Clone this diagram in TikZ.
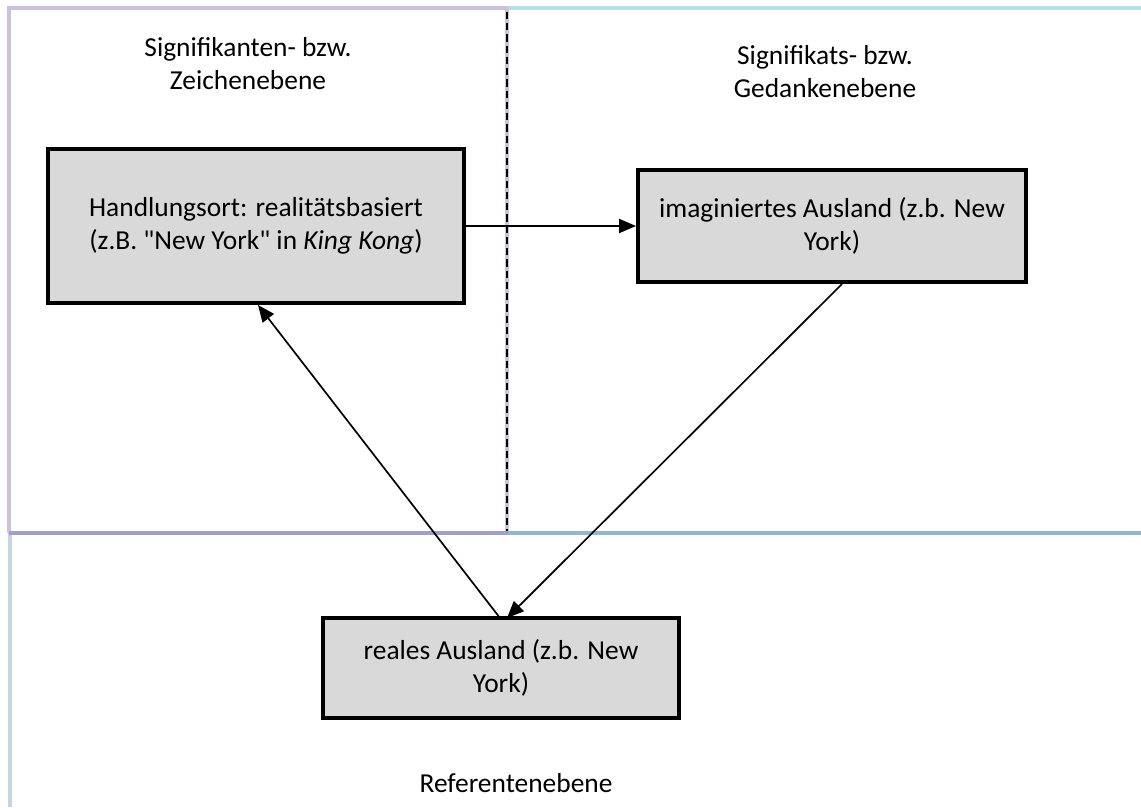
\documentclass[tikz,border=0pt]{standalone}
\usepackage{fontspec}
\setmainfont{Carlito}[Ligatures=TeXOff]
\usetikzlibrary{positioning}
\usetikzlibrary{arrows.meta}
\definecolor{lavlin}{RGB}{204,193,218}
\definecolor{bluelin}{RGB}{183,222,232}
\definecolor{midlin}{RGB}{160,161,196}
\definecolor{steellin}{RGB}{146,184,204}
\definecolor{greylin}{RGB}{198,213,224}
\definecolor{boxfill}{RGB}{217,217,217}
\tikzset{ebenebox/.style = {draw, line width = 2.8pt, fill = boxfill, align = center, inner sep = 0},
         label/.style = {align = center},
         pfeil/.style = {line width = 1.2pt, -{Triangle[length = 12pt, width = 10pt]}}}

\begin{document}
\begin{tikzpicture}[x = 0.025cm, y = -0.025cm, every node/.style = {font = \fontsize{19.5}{23.5}\selectfont}]
    \useasboundingbox (0,0) rectangle (1141,807);
    % ebenen
    \draw[line width = 3.5pt, bluelin] (508,8) -- (1141,8);
    \draw[line width = 3.5pt, lavlin] (508,8) -- (9,8) -- (9,533);
    \draw[line width = 3.5pt, lavlin] (507,8) -- (507,533);
    \draw[line width = 0.8pt, dash pattern = on 5pt off 3pt] (507,12) -- (507,533);
    \draw[line width = 3.5pt, greylin] (10,533) -- (10,807);
    \draw[line width = 3.5pt, midlin] (9,533) -- (508,533);
    \draw[line width = 3.5pt, steellin] (508,533) -- (1141,533);
    \node[label] (zeichen) at (248,64) {Signifikanten- bzw.\\Zeichenebene};
    \node[label] (gedanke) at (825,72) {Signifikats- bzw.\\Gedankenebene};
    \node[label] (referent) at (516,783) {Referentenebene};
    % boxen
    \node[ebenebox, minimum width = 10.4cm, minimum height = 3.85cm] (ort) at (256,226)
        {Handlungsort: realitätsbasiert\\(z.B. "New York" in \textit{King Kong})};
    \node[ebenebox, minimum width = 9.7cm, minimum height = 2.8cm] (imag) at (832,226)
        {imaginiertes Ausland (z.b. New\\York)};
    \node[ebenebox, minimum width = 8.9cm, minimum height = 2.5cm] (real) at (501,668)
        {reales Ausland (z.b. New\\York)};
    \coordinate (imagunten) at (842,284);
    \coordinate (realoben) at (507,618);
    \coordinate (realstart) at (500,618);
    \coordinate (ortunten) at (258,305);
    \draw[pfeil] (ort.east) -- (imag.west);
    \draw[pfeil] (imagunten) -- (realoben);
    \draw[pfeil] (realstart) -- (ortunten);
\end{tikzpicture}
\end{document}
